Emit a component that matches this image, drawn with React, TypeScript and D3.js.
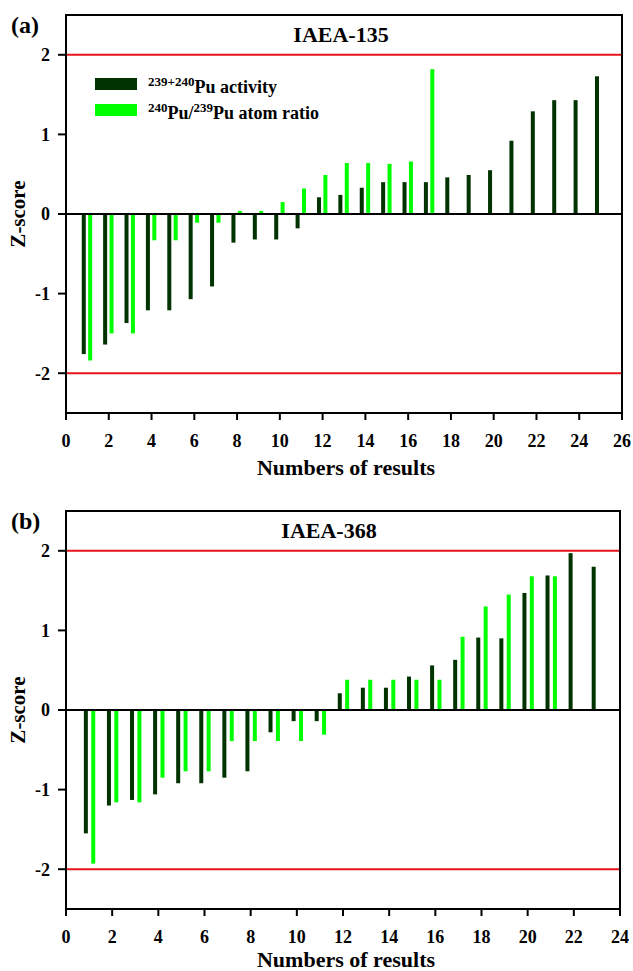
import * as d3 from "d3";
import React from "react";

// IAEA-135: z-scores per result
const activity135 = [-1.76, -1.64, -1.37, -1.21, -1.21, -1.07, -0.91, -0.36, -0.32, -0.32, -0.18, 0.21, 0.24, 0.33, 0.4, 0.4, 0.4, 0.46, 0.49, 0.55, 0.92, 1.29, 1.43, 1.43, 1.73];
const ratio135 = [-1.84, -1.5, -1.5, -0.33, -0.33, -0.11, -0.11, 0.04, 0.04, 0.15, 0.32, 0.49, 0.64, 0.64, 0.63, 0.66, 1.82];

// IAEA-368
const activity368 = [-1.55, -1.2, -1.13, -1.06, -0.92, -0.92, -0.85, -0.77, -0.28, -0.14, -0.14, 0.21, 0.28, 0.28, 0.42, 0.56, 0.63, 0.91, 0.9, 1.47, 1.69, 1.97, 1.8];
const ratio368 = [-1.93, -1.16, -1.16, -0.85, -0.77, -0.77, -0.39, -0.39, -0.39, -0.39, -0.31, 0.38, 0.38, 0.38, 0.38, 0.38, 0.92, 1.3, 1.45, 1.68, 1.68];

const yTicks = [-2, -1, 0, 1, 2];
const limits = [-2, 2];

const DARK = "#003300";
const LIGHT = "#00ff00";
const RED = "#e8141c";
const FONT = "'Liberation Serif', 'Times New Roman', serif";

type PanelProps = {
  top: number;
  right: number;
  xMax: number;
  activity: number[];
  ratio: number[];
  darkOff: number;
  lightOff: number;
  title: string;
  titleX: number;
  tag: string;
  legend?: boolean;
};

const LEFT = 66;
const HEIGHT = 398;
const BAR_W = 4;

const Panel = ({ top, right, xMax, activity, ratio, darkOff, lightOff, title, titleX, tag, legend }: PanelProps) => {
  const x = d3.scaleLinear().domain([0, xMax]).range([LEFT, right]);
  const y = d3.scaleLinear().domain([-2.5, 2.5]).range([top + HEIGHT, top]);
  const xTicks = d3.range(0, xMax + 1, 2);

  const bars = (vals: number[], off: number, color: string, key: string) =>
    vals.map((v, i) => (
      <rect
        key={key + i}
        x={x(i + 1 + off) - BAR_W / 2}
        y={Math.min(y(v), y(0))}
        width={BAR_W}
        height={Math.abs(y(v) - y(0))}
        fill={color}
      />
    ));

  return (
    <g fontFamily={FONT} fontWeight="bold">
      <text x={11} y={top + 18} fontSize={24}>{tag}</text>
      <text x={titleX} y={top + 27} fontSize={22} textAnchor="middle">{title}</text>

      {limits.map((l) => (
        <line key={l} x1={LEFT} x2={right} y1={y(l)} y2={y(l)} stroke={RED} strokeWidth={2} />
      ))}

      {bars(activity, darkOff, DARK, "a")}
      {bars(ratio, lightOff, LIGHT, "r")}

      <line x1={LEFT} x2={right} y1={y(0)} y2={y(0)} stroke="#000" strokeWidth={2} />
      <rect x={LEFT} y={top} width={right - LEFT} height={HEIGHT} fill="none" stroke="#000" strokeWidth={2} />

      {yTicks.map((t) => (
        <g key={t}>
          <line x1={LEFT - 8} x2={LEFT} y1={y(t)} y2={y(t)} stroke="#000" strokeWidth={2} />
          <text x={50} y={y(t)} dy="0.35em" fontSize={18} textAnchor="end">{t}</text>
        </g>
      ))}
      {xTicks.map((t) => (
        <g key={t}>
          <line x1={x(t)} x2={x(t)} y1={top + HEIGHT} y2={top + HEIGHT + 7} stroke="#000" strokeWidth={2} />
          <text x={x(t)} y={top + HEIGHT + 34} fontSize={18} textAnchor="middle">{t}</text>
        </g>
      ))}

      <text x={346} y={Math.min(top + HEIGHT + 62, 967)} fontSize={22} textAnchor="middle">Numbers of results</text>
      <text transform={`translate(25, ${y(0)}) rotate(-90)`} fontSize={21} textAnchor="middle">Z-score</text>

      {legend && (
        <g>
          <rect x={95} y={top + 63} width={42} height={12} fill={DARK} />
          <rect x={95} y={top + 89} width={42} height={12} fill={LIGHT} />
          <text x={148} y={top + 78} fontSize={18}>
            <tspan fontSize={13} dy={-7}>239+240</tspan>
            <tspan dy={7}>Pu activity</tspan>
          </text>
          <text x={148} y={top + 104} fontSize={18}>
            <tspan fontSize={13} dy={-7}>240</tspan>
            <tspan dy={7}>Pu/</tspan>
            <tspan fontSize={13} dy={-7}>239</tspan>
            <tspan dy={7}>Pu atom ratio</tspan>
          </text>
        </g>
      )}
    </g>
  );
};

export default function App() {
  return (
    <svg width={633} height={971} style={{ position: "absolute", left: 0, top: 0, background: "#fff" }}>
      <Panel top={15} right={622} xMax={26} activity={activity135} ratio={ratio135} darkOff={-0.17} lightOff={0.13} title="IAEA-135" titleX={341} tag="(a)" legend />
      <Panel top={511} right={620} xMax={24} activity={activity368} ratio={ratio368} darkOff={-0.14} lightOff={0.18} title="IAEA-368" titleX={329} tag="(b)" />
    </svg>
  );
}
